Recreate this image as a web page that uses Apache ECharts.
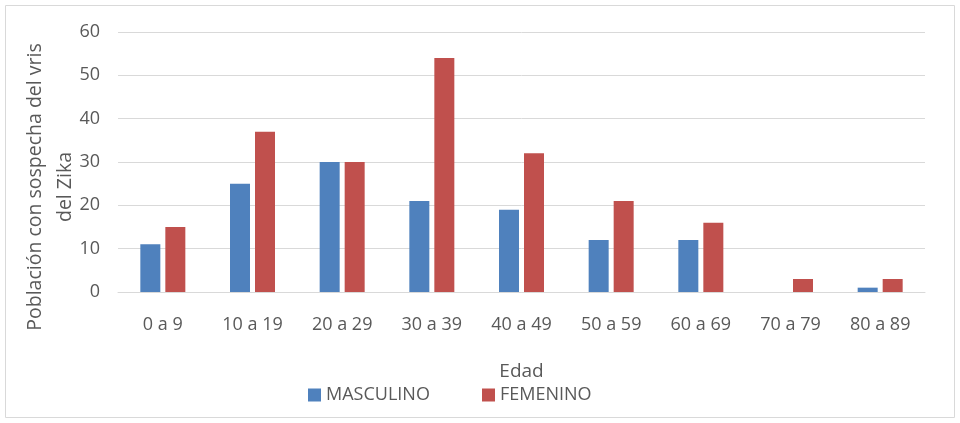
<!DOCTYPE html>
<html>
<head>
<meta charset="utf-8">
<script src="https://cdn.jsdelivr.net/npm/echarts@6/dist/echarts.min.js"></script>
<style>
  html, body { margin: 0; padding: 0; background: #fff; }
  #chart { width: 960px; height: 423px; }
</style>
</head>
<body>
<div id="chart"></div>
<script>
var edades = ['0 a 9', '10 a 19', '20 a 29', '30 a 39', '40 a 49', '50 a 59', '60 a 69', '70 a 79', '80 a 89'];
var masculino = [11, 25, 30, 21, 19, 12, 12, 0, 1];
var femenino = [15, 37, 30, 54, 32, 21, 16, 3, 3];

var textColor = '#595959';
var font = 'Open Sans';

var myChart = echarts.init(document.getElementById('chart'));

var option = {
    animation: false,
    textStyle: { fontFamily: font },
    graphic: [
        {
            type: 'rect',
            shape: { x: 5.5, y: 5.5, width: 949, height: 412 },
            style: { fill: 'none', stroke: '#d9d9d9', lineWidth: 1 }
        },
        {
            type: 'text',
            x: 50,
            y: 187,
            rotation: Math.PI / 2,
            style: {
                text: 'Población con sospecha del vris\ndel Zika',
                fontFamily: font,
                fontSize: 19.5,
                lineHeight: 30,
                fill: textColor,
                align: 'center',
                verticalAlign: 'middle'
            }
        }
    ],
    // two legends so each entry sits where the original puts it
    legend: [
        {
            left: 303,
            top: 381,
            itemWidth: 13,
            itemHeight: 13,
            icon: 'rect',
            textStyle: { color: textColor, fontSize: 18, fontFamily: font },
            data: ['MASCULINO']
        },
        {
            left: 477,
            top: 381,
            itemWidth: 13,
            itemHeight: 13,
            icon: 'rect',
            textStyle: { color: textColor, fontSize: 18, fontFamily: font },
            data: ['FEMENINO']
        }
    ],
    grid: {
        left: 118,
        right: 35,
        top: 32,
        bottom: 131
    },
    xAxis: {
        type: 'category',
        data: edades,
        name: 'Edad',
        nameLocation: 'middle',
        nameGap: 70,
        nameTextStyle: { color: textColor, fontSize: 19, fontFamily: font },
        axisLine: { lineStyle: { color: '#d9d9d9' } },
        axisTick: { show: false },
        axisLabel: { color: textColor, fontSize: 18, margin: 24, fontFamily: font }
    },
    yAxis: {
        type: 'value',
        min: 0,
        max: 60,
        interval: 10,
        axisLine: { show: false },
        axisTick: { show: false },
        axisLabel: { color: textColor, fontSize: 18, margin: 18, fontFamily: font },
        splitLine: { lineStyle: { color: '#d9d9d9' } }
    },
    series: [
        {
            name: 'MASCULINO',
            type: 'bar',
            data: masculino,
            barWidth: 20,
            barGap: '25%',
            itemStyle: { color: '#4F81BD' }
        },
        {
            name: 'FEMENINO',
            type: 'bar',
            data: femenino,
            barWidth: 20,
            barGap: '25%',
            itemStyle: { color: '#C0504D' }
        }
    ]
};

myChart.setOption(option);
window.addEventListener('resize', function() { myChart.resize(); });
</script>
</body>
</html>
